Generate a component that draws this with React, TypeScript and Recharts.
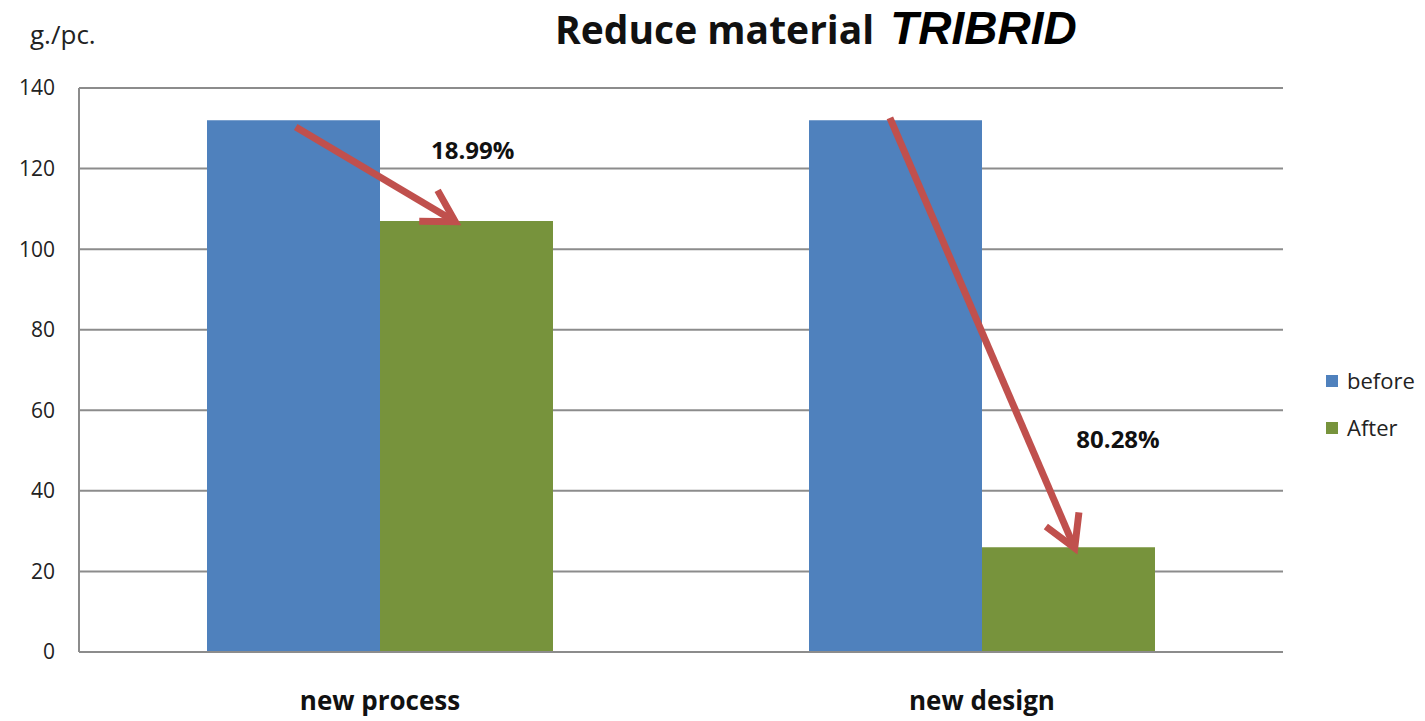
import { Bar, BarChart, CartesianGrid, ReferenceDot, ReferenceLine, XAxis, YAxis } from 'recharts';

const CATEGORIES = ['new process', 'new design'];
const BEFORE = [132, 132];
const AFTER = [107, 26];
const Y_TICKS = [0, 20, 40, 60, 80, 100, 120, 140];

// annotation arrows on a hidden 0..1 numeric axis (each category spans half)
const ARROWS = [
  { x1: 0.18, y1: 130.3, x2: 0.3125, y2: 106.8 },
  { x1: 0.6735, y1: 132.6, x2: 0.827, y2: 25.8 },
];
const PCT_LABELS = [
  { x: 0.327, y: 124.6, text: '18.99%' },
  { x: 0.863, y: 52.8, text: '80.28%' },
];

const BLUE = '#4F81BD';
const GREEN = '#77933C';
const RED = '#C0504D';
const GRID = '#8c8c8c';
const FONT = '"Open Sans", "Noto Sans", sans-serif';

const data = CATEGORIES.map((name, i) => ({ name, before: BEFORE[i], after: AFTER[i] }));

function Arrow(props: any) {
  const { x1, y1, x2, y2 } = props;
  const ang = Math.atan2(y1 - y2, x1 - x2);
  const len = 36;
  const spread = Math.PI / 6;
  const w1 = { x: x2 + len * Math.cos(ang - spread), y: y2 + len * Math.sin(ang - spread) };
  const w2 = { x: x2 + len * Math.cos(ang + spread), y: y2 + len * Math.sin(ang + spread) };
  return (
    <g>
      <line x1={x1} y1={y1} x2={x2} y2={y2} stroke={RED} strokeWidth={7} />
      <polyline
        points={`${w1.x},${w1.y} ${x2},${y2} ${w2.x},${w2.y}`}
        fill="none"
        stroke={RED}
        strokeWidth={7}
        strokeLinejoin="miter"
      />
    </g>
  );
}

export default function App() {
  return (
    <div style={{ position: 'absolute', left: 0, top: 0, width: 1425, height: 721, background: '#fff', fontFamily: FONT }}>
      <div style={{ position: 'absolute', left: 30, top: 16, fontSize: 26, color: '#222' }}>g./pc.</div>
      <div
        style={{
          position: 'absolute',
          left: 555,
          top: 4,
          lineHeight: '48px',
          whiteSpace: 'nowrap',
          display: 'flex',
          alignItems: 'baseline',
        }}
      >
        <span style={{ fontSize: 39, fontWeight: 700, color: '#111', fontFamily: FONT }}>Reduce material</span>
        <span
          style={{
            marginLeft: 16,
            fontSize: 46,
            fontWeight: 700,
            fontStyle: 'italic',
            color: '#000',
            fontFamily: '"Liberation Sans", Arial, sans-serif',
          }}
        >
          TRIBRID
        </span>
      </div>

      <BarChart
        width={1425}
        height={721}
        data={data}
        margin={{ top: 88, right: 142, left: 0, bottom: 0 }}
        barGap={0}
        style={{ position: 'absolute', left: 0, top: 0 }}
      >
        <CartesianGrid vertical={false} stroke={GRID} strokeWidth={2} />
        <XAxis
          dataKey="name"
          height={69}
          tickLine={false}
          tickMargin={34}
          axisLine={{ stroke: GRID, strokeWidth: 2 }}
          tick={{ fill: '#111', fontSize: 26, fontWeight: 700, fontFamily: FONT }}
        />
        <XAxis xAxisId="annot" type="number" domain={[0, 1]} allowDataOverflow hide />
        <YAxis
          width={79}
          domain={[0, 140]}
          ticks={Y_TICKS}
          interval={0}
          tickLine={false}
          tickMargin={18}
          axisLine={{ stroke: GRID, strokeWidth: 2 }}
          tick={{ fill: '#222', fontSize: 21, fontFamily: FONT }}
        />
        <Bar dataKey="before" fill={BLUE} barSize={173} isAnimationActive={false} />
        <Bar dataKey="after" fill={GREEN} barSize={173} isAnimationActive={false} />
        {ARROWS.map((a, i) => (
          <ReferenceLine
            key={i}
            xAxisId="annot"
            segment={[
              { x: a.x1, y: a.y1 },
              { x: a.x2, y: a.y2 },
            ]}
            shape={Arrow}
          />
        ))}
        {PCT_LABELS.map((l, i) => (
          <ReferenceDot
            key={i}
            xAxisId="annot"
            x={l.x}
            y={l.y}
            r={0}
            fill="none"
            stroke="none"
            label={{ value: l.text, position: 'center', fill: '#111', fontSize: 24, fontWeight: 700, fontFamily: FONT }}
          />
        ))}
      </BarChart>

      <div style={{ position: 'absolute', left: 1326, top: 357, fontSize: 22, color: '#222', lineHeight: '47px' }}>
        {[
          { name: 'before', color: BLUE },
          { name: 'After', color: GREEN },
        ].map((e) => (
          <div key={e.name} style={{ display: 'flex', alignItems: 'center' }}>
            <span style={{ width: 12, height: 12, background: e.color, marginRight: 9, display: 'inline-block' }} />
            {e.name}
          </div>
        ))}
      </div>
    </div>
  );
}
